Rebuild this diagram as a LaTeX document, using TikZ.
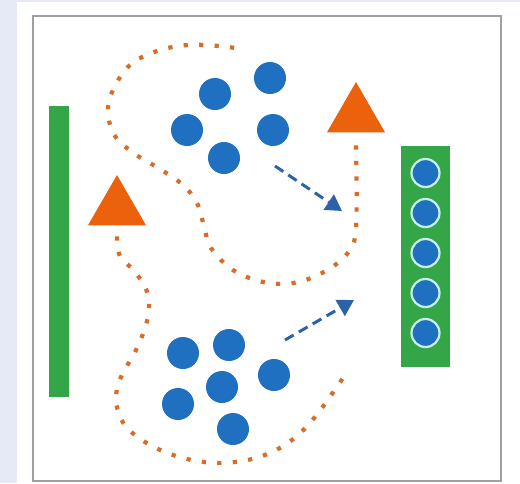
\documentclass[tikz,border=0pt]{standalone}
\definecolor{ballblue}{RGB}{31,112,192}
\definecolor{arrowblue}{RGB}{44,98,168}
\definecolor{signorange}{RGB}{236,98,12}
\definecolor{trailorange}{RGB}{214,110,42}
\definecolor{bargreen}{RGB}{52,166,72}
\definecolor{ringcyan}{RGB}{200,240,235}
\definecolor{framegray}{RGB}{160,160,160}
\definecolor{pagelavender}{RGB}{230,233,246}
\usepackage{tikz}
\usetikzlibrary{positioning, arrows.meta, shapes.geometric}

\begin{document}
\begin{tikzpicture}[
    x=1pt, y=-1pt,
    ball/.style={circle, fill=ballblue, minimum size=32pt, inner sep=0pt},
    slot/.style={circle, fill=ballblue, draw=ringcyan, line width=2.2pt,
      minimum size=28pt, inner sep=0pt, outer sep=0pt},
    bar/.style={fill=bargreen, inner sep=0pt},
    sign/.style={regular polygon, regular polygon sides=3, fill=signorange,
      minimum size=67pt, inner sep=0pt},
    trail/.style={draw=trailorange, line width=4.2pt, dash pattern=on 4.2pt off 11.3pt},
    move/.style={draw=arrowblue, line width=3pt, dash pattern=on 10pt off 6pt,
      -{Triangle[length=16pt, width=18pt]}},
    node distance=12pt,
  ]
    \useasboundingbox (0,0) rectangle (520,483);
    \fill[pagelavender] (0,0) rectangle (520,483);
    \fill[white] (17,2) rectangle (520,483);
    \draw[framegray, line width=1.5pt] (33,16) rectangle (501,481);

    \node[bar, minimum width=20pt, minimum height=291pt] (post) at (59,251.5) {};
    \node[bar, minimum width=49pt, minimum height=221pt] (rack) at (425.5,256.5) {};
    \node[slot] (s1) at (425.5,173) {};
    \node[slot, below=of s1] (s2) {};
    \node[slot, below=of s2] (s3) {};
    \node[slot, below=of s3] (s4) {};
    \node[slot, below=of s4] (s5) {};

    \node[sign] (signl) at (117,208.5) {};
    \node[sign] (signr) at (356,115.5) {};

    \node[ball] (u1) at (215,94) {};
    \node[ball] (u2) at (187,130) {};
    \node[ball] (u3) at (224,158) {};
    \node[ball] (u4) at (270,78) {};
    \node[ball] (u5) at (273,130) {};

    \node[ball] (d1) at (183,353) {};
    \node[ball] (d2) at (229,345) {};
    \node[ball] (d3) at (222,387) {};
    \node[ball] (d4) at (178,404) {};
    \node[ball] (d5) at (233,429) {};
    \node[ball] (d6) at (274,375) {};

    \coordinate (r0) at ([yshift=-13pt]signr.side 2);
    \coordinate (r1) at (235,48);
    \coordinate (l0) at ([yshift=-11pt]signl.side 2);
    \coordinate (l1) at (343,378);
    \draw[trail] plot[smooth, tension=0.6] coordinates {(r0) (356,228) (347,254)
      (322,273) (293,283) (263,282) (233,270) (211,248) (204,226) (197,203)
      (183,185) (160,169) (135,154) (115,136) (108,112) (113,90) (130,65)
      (157,51) (188,45) (219,46) (r1)};
    \draw[trail] plot[smooth, tension=0.6] coordinates {(l0) (120,256) (136,273)
      (148,295) (147,321) (136,350) (121,377) (116,400) (124,424) (145,442)
      (173,455) (204,462) (235,462) (265,455) (292,440) (315,417) (l1)};

    \coordinate (a1) at (275,166);
    \coordinate (a2) at (342,211);
    \coordinate (a3) at (285,340);
    \coordinate (a4) at (354,300);
    \draw[move] (a1) -- (a2);
    \draw[move] (a3) -- (a4);
  \end{tikzpicture}
\end{document}
